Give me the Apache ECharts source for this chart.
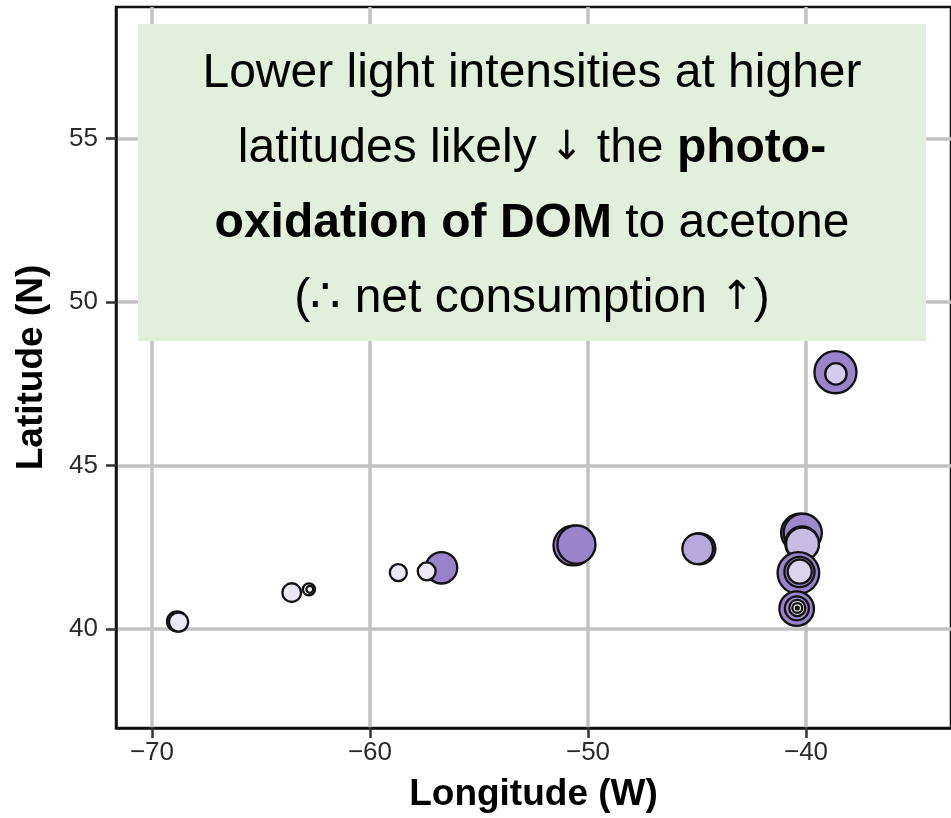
<!DOCTYPE html>
<html>
<head>
<meta charset="utf-8">
<script src="https://cdn.jsdelivr.net/npm/echarts@6/dist/echarts.min.js"></script>
<style>
  html, body { margin: 0; padding: 0; background: #fff; }
  #chart { width: 951px; height: 818px; }
</style>
</head>
<body>
<div id="chart"></div>
<script>
// Station positions (degrees) in drawing order; co-located samples overlap
const lon = [-68.85, -68.78, -63.59, -62.80, -62.76, -58.70, -56.72, -57.40,
             -50.67, -50.53, -44.87, -44.97,
             -40.27, -40.15, -40.18, -40.16,
             -40.35, -40.30, -40.29,
             -40.43, -40.42, -40.40, -40.40, -40.40,
             -38.65, -38.63];
const lat = [40.23, 40.21, 41.11, 41.21, 41.21, 41.72, 41.87, 41.76,
             42.55, 42.58, 42.45, 42.45,
             42.94, 42.94, 42.62, 42.60,
             41.71, 41.74, 41.75,
             40.62, 40.63, 40.64, 40.64, 40.64,
             47.85, 47.80];
// Bubble size variable
const sizeVal = [4.1, 3.9, 3.8, 2.3, 1.1, 3.4, 6.7, 3.6,
                 8.6, 8.2, 6.6, 6.5,
                 8.2, 8.2, 7.2, 7.0,
                 9.0, 6.4, 5.0,
                 7.4, 5.0, 3.2, 1.8, 0.2,
                 9.1, 4.4];
// Fill shade variable (0 = pale, 1 = deep purple)
const shade = [0.18, 0.15, 0.15, 0.10, 0.04, 0.15, 0.92, 0.15,
               0.95, 0.92, 0.70, 0.64,
               0.90, 0.88, 0.55, 0.50,
               0.92, 0.88, 0.30,
               0.92, 0.85, 0.15, 0.08, 0.0,
               0.92, 0.37];

const xTicks = [-70, -60, -50, -40];
const yTicks = [40, 45, 50, 55];

const noteText =
  'Lower light intensities at higher\n' +
  'latitudes likely {ar|\u2193} the {b|photo-}\n' +
  '{b|oxidation of DOM} to acetone\n' +
  '(\u2234 net consumption {ar|\u2191})';

const points = lon.map((x, i) => [x, lat[i], sizeVal[i], shade[i]]);

const FONT = "'Liberation Sans', Arial, sans-serif";
const minusFmt = v => (v < 0 ? '\u2212' + Math.abs(v) : String(v));

const chart = echarts.init(document.getElementById('chart'), null, { renderer: 'canvas' });

chart.setOption({
  animation: false,
  backgroundColor: '#ffffff',
  grid: {
    left: 116, right: 0, top: 7, bottom: 90,
    show: true, borderColor: '#111', borderWidth: 2.5,
    backgroundColor: 'transparent',
    containLabel: false, outerBoundsMode: 'none'
  },
  xAxis: {
    type: 'value', min: -71.65, max: -33.35,
    name: 'Longitude (W)', nameLocation: 'middle', nameGap: 48,
    nameTextStyle: { fontFamily: FONT, fontSize: 37, fontWeight: 'bold', color: '#000' },
    axisLine: { show: true, onZero: false, lineStyle: { color: '#111', width: 2.5 } },
    axisTick: { show: true, length: 10, customValues: xTicks, lineStyle: { color: '#333', width: 2.5 } },
    axisLabel: { customValues: xTicks, margin: 12, fontFamily: FONT, fontSize: 26, color: '#2a2a2a', formatter: minusFmt },
    splitLine: { show: true, lineStyle: { color: '#c2c2c2', width: 3.5 } }
  },
  yAxis: {
    type: 'value', min: 36.97, max: 59.02,
    name: 'Latitude (N)', nameLocation: 'middle', nameGap: 66,
    nameTextStyle: { fontFamily: FONT, fontSize: 37, fontWeight: 'bold', color: '#000' },
    axisLine: { show: true, onZero: false, lineStyle: { color: '#111', width: 2.5 } },
    axisTick: { show: true, length: 10, customValues: yTicks, lineStyle: { color: '#333', width: 2.5 } },
    axisLabel: { customValues: yTicks, margin: 18, fontFamily: FONT, fontSize: 26, color: '#2a2a2a' },
    splitLine: { show: true, lineStyle: { color: '#c2c2c2', width: 3.5 } }
  },
  visualMap: [
    { type: 'continuous', show: false, seriesIndex: 0, dimension: 2, min: 0, max: 10,
      inRange: { symbolSize: [2, 46] } },
    { type: 'continuous', show: false, seriesIndex: 0, dimension: 3, min: 0, max: 1,
      inRange: { color: ['#faf9fd', '#c8bce5', '#9079c6'] } }
  ],
  series: [{
    type: 'scatter',
    data: points,
    symbol: 'circle',
    itemStyle: { borderColor: '#111', borderWidth: 2.3, opacity: 1 },
    emphasis: { disabled: true },
    z: 3
  }],
  graphic: [
    { type: 'rect', z: 100, zlevel: 0,
      shape: { x: 138, y: 24, width: 788, height: 317 },
      style: { fill: '#e2efda' } },
    { type: 'text', z: 101, zlevel: 0, x: 532, y: 186.5,
      style: {
        text: noteText, align: 'center', verticalAlign: 'middle',
        fontFamily: FONT, fontSize: 48, lineHeight: 75, fill: '#000',
        rich: {
          b: { fontFamily: FONT, fontSize: 48, fontWeight: 'bold', lineHeight: 75, fill: '#000' },
          ar: { fontFamily: "'DejaVu Sans', sans-serif", fontSize: 40, lineHeight: 75, fill: '#000' }
        }
      } }
  ]
});
</script>
</body>
</html>
